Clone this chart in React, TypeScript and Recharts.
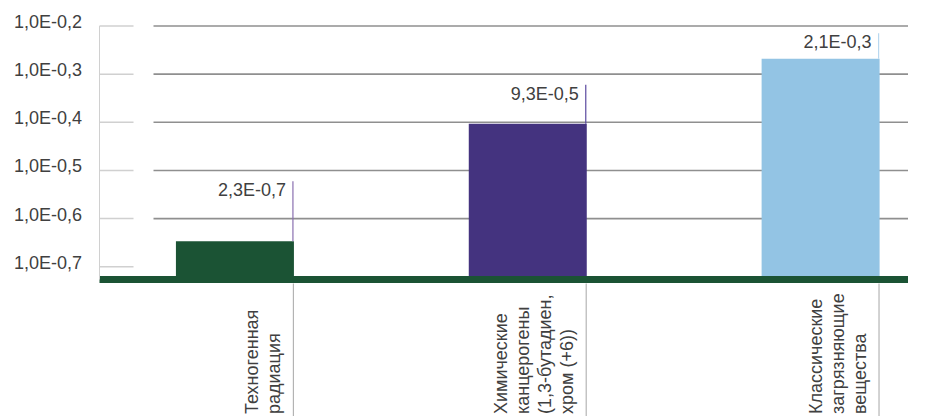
import React from 'react';
import { BarChart, Bar, XAxis, YAxis, CartesianGrid, Cell, LabelList } from 'recharts';

// ---- data ----
const categoryLines: string[][] = [
  ['Техногенная', 'радиация'],
  ['Химические', 'канцерогены', '(1,3-бутадиен,', 'хром (+6))'],
  ['Классические', 'загрязняющие', 'вещества'],
];
const categories = categoryLines.map((l) => l.join(' '));
const riskValues = [3.4e-7, 9.3e-5, 2.1e-3];
const valueLabels = ['2,3E-0,7', '9,3E-0,5', '2,1E-0,3'];
const yTicks = [1e-7, 1e-6, 1e-5, 1e-4, 1e-3, 1e-2];
const yTickLabels = ['1,0E-0,7', '1,0E-0,6', '1,0E-0,5', '1,0E-0,4', '1,0E-0,3', '1,0E-0,2'];

// ---- styles ----
const barColors = ['#1b5334', '#44337f', '#93c4e4'];
const leaderColors = ['#8a6fb0', '#5b4aa0', '#b9d8ef'];
const labelLift = [51, 30, 16.5];
const FONT = "'Liberation Sans', Arial, sans-serif";
const TEXT = '#404040';
const BAR_SIZE = 118;
const PLOT_LEFT = 91.5;
const AXIS_Y = 271.5;

const rows = categories.map((name, i) => ({ idx: i, name, value: riskValues[i] }));

const YTick = (props: any) => {
  const { y, payload } = props;
  let i = 0;
  let best = Infinity;
  yTicks.forEach((t, k) => {
    const d = Math.abs(Math.log10(t) - Math.log10(payload.value));
    if (d < best) { best = d; i = k; }
  });
  return (
    <g>
      <line x1={PLOT_LEFT} x2={PLOT_LEFT + 34} y1={y} y2={y} stroke="#d0d0d0" strokeWidth={1.5} />
      <text x={74} y={y - 4} textAnchor="end" dominantBaseline="central"
        style={{ fontFamily: FONT, fontSize: 18, fill: TEXT }}>{yTickLabels[i]}</text>
    </g>
  );
};

const XTick = (props: any) => {
  const { x, payload } = props;
  const i = Math.round(payload.value);
  const lines = categoryLines[i] || [];
  const edge = x + BAR_SIZE / 2 - 1;
  const baseY = 406;
  return (
    <g>
      <line x1={edge} x2={edge} y1={AXIS_Y + 4} y2={420} stroke="#a6a6a6" strokeWidth={1} />
      {lines.map((t, j) => {
        const bx = edge - 13 - (lines.length - 1 - j) * 22;
        return (
          <text key={j} x={bx} y={baseY} transform={`rotate(-90 ${bx} ${baseY})`} textAnchor="start"
            style={{ fontFamily: FONT, fontSize: 18, fill: TEXT }}>{t}</text>
        );
      })}
    </g>
  );
};

const BarLabel = (props: any) => {
  const { x, y, width } = props;
  let index = props.index;
  if (index === undefined || index === null) index = riskValues.indexOf(props.value);
  const right = Number(x) + Number(width);
  const cy = Number(y) - labelLift[index];
  return (
    <g>
      <line x1={right - 1} x2={right - 1} y1={cy - 9} y2={Number(y)} stroke={leaderColors[index]} strokeWidth={1.2} />
      <text x={right - 8} y={cy} textAnchor="end" dominantBaseline="central"
        style={{ fontFamily: FONT, fontSize: 18, fill: TEXT }}>{valueLabels[index]}</text>
    </g>
  );
};

const GridLine = (p: any) => (
  <line key={`g-${p.index}-${p.y1}`} x1={p.x1 + 54} x2={p.x2} y1={p.y1} y2={p.y2} stroke="#8f8f8f" strokeWidth={1.6} />
);

export default function App() {
  return (
    <BarChart width={919} height={408} data={rows}
      margin={{ top: 18, right: 19, bottom: 6.5, left: 11.5 }}>
      <CartesianGrid vertical={false} horizontalValues={yTicks.slice(1)} horizontal={GridLine} />
      <XAxis dataKey="idx" type="number" domain={[-0.4639, 2.297]} allowDataOverflow ticks={[0, 1, 2]}
        interval={0} height={130} tickLine={false} tick={XTick}
        axisLine={{ stroke: '#1b5334', strokeWidth: 7 }} />
      <YAxis scale="log" domain={[5.44e-8, 1e-2]} allowDataOverflow ticks={yTicks} interval={0}
        width={80} tickLine={false} tick={YTick} axisLine={{ stroke: '#d0d0d0', strokeWidth: 1 }} />
      <Bar dataKey="value" barSize={BAR_SIZE} isAnimationActive={false}>
        {rows.map((r, i) => (
          <Cell key={r.name} fill={barColors[i]} />
        ))}
        <LabelList dataKey="value" content={BarLabel} />
      </Bar>
    </BarChart>
  );
}
